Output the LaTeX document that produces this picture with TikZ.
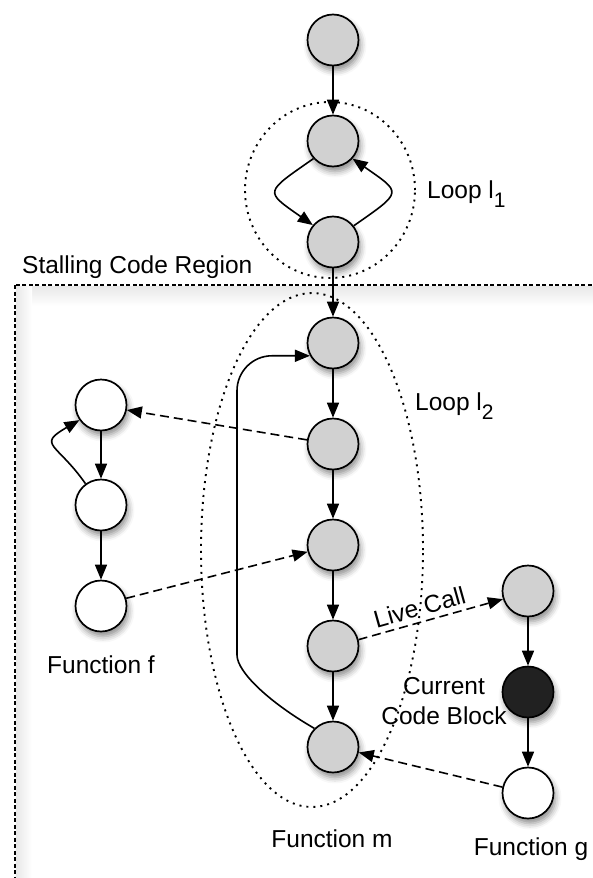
\documentclass[tikz,border=0pt]{standalone}
\usepackage{fontspec}
\setmainfont{Liberation Sans}
\usetikzlibrary{arrows.meta,shadows.blur}
\begin{document}
\begin{tikzpicture}[x=1pt,y=1pt]
\tikzset{
 blk/.style={circle, draw, line width=1.7pt, minimum size=51pt, inner sep=0pt,
   blur shadow={shadow xshift=2pt, shadow yshift=-5pt, shadow blur radius=6pt, shadow opacity=45}},
 gr/.style={blk, fill=black!18},
 wh/.style={blk, fill=white},
 dk/.style={blk, fill=black!87},
 arr/.style={line width=1.6pt, -{Triangle[length=15pt,width=12pt]}},
 darr/.style={arr, dash pattern=on 9pt off 5pt},
 loopline/.style={line width=1.9pt, dash pattern=on 2pt off 5pt},
 lbl/.style={font=\fontsize{24.5}{30}\selectfont, inner sep=0pt}
}
\useasboundingbox (0,0) rectangle (593,-878);
% stalling code region
\shade[top color=black!9, bottom color=white] (16,-286) rectangle (600,-306);
\shade[left color=black!9, right color=white] (16,-286) rectangle (32,-900);
\draw[line width=1.5pt, dash pattern=on 4pt off 2.5pt] (15,-285) rectangle (640,-920);
\node[lbl, anchor=base west] (scr) at (22,-273) {Stalling Code Region};
% loops
\draw[loopline] (330,-190) ellipse [x radius=85, y radius=88];
\draw[loopline] (312,-550) ellipse [x radius=111, y radius=257];
\node[lbl, anchor=base west] (l1) at (427,-198) {Loop l\raisebox{-0.4em}{\fontsize{21}{21}\selectfont 1}};
\node[lbl, anchor=base west] (l2) at (415,-410) {Loop l\raisebox{-0.4em}{\fontsize{21}{21}\selectfont 2}};
% nodes
\node[gr] (t1) at (333,-40) {};
\node[gr] (c2) at (333,-141) {};
\node[gr] (c3) at (333,-242) {};
\node[gr] (m1) at (333,-343) {};
\node[gr] (m2) at (333,-444) {};
\node[gr] (m3) at (333,-545) {};
\node[gr] (m4) at (333,-646) {};
\node[gr] (m5) at (333,-747) {};
\node[wh] (f1) at (101,-405) {};
\node[wh] (f2) at (101,-505) {};
\node[wh] (f3) at (101,-606) {};
\node[gr] (g1) at (528,-591) {};
\node[dk] (g2) at (528,-692) {};
\node[wh] (g3) at (528,-793) {};
% labels
\node[lbl, anchor=base] (ff) at (101,-673) {Function f};
\node[lbl, anchor=base] (fm) at (332,-847) {Function m};
\node[lbl, anchor=base] (fg) at (531,-855) {Function g};
\node[lbl, align=center] (ccb) at (444,-701) {Current\\Code Block};
% edges
\draw[arr] (t1) -- (c2);
\draw[arr] (c2.222) to[out=215, in=145, looseness=2.3] (c3.140);
\draw[arr] (c3.38) to[out=35, in=-35, looseness=2.3] (c2.-42);
\draw[arr] (c3) -- (m1);
\draw[arr] (m1) -- (m2);
\draw[arr] (m2) -- (m3);
\draw[arr] (m3) -- (m4);
\draw[arr] (m4) -- (m5);
\coordinate (mb) at (237,-620);
\draw[arr, rounded corners=35pt] (m5.135) to[out=150, in=-90] (mb) |- (m1.209);
\draw[darr] (m2.171) -- (f1.349);
\draw[arr] (f1) -- (f2);
\draw[arr] (f2) -- (f3);
\draw[arr] (f2.126) to[out=125, in=210, looseness=2] (f1.215);
\draw[darr] (f3.17) -- (m3.195);
\draw[darr] (m4.14) -- node[lbl, pos=0.45, above=5pt, sloped] {Live Call} (g1.198);
\draw[arr] (g1) -- (g2);
\draw[arr] (g2) -- (g3);
\draw[darr] (g3.167) -- (m5.348);
\end{tikzpicture}
\end{document}
